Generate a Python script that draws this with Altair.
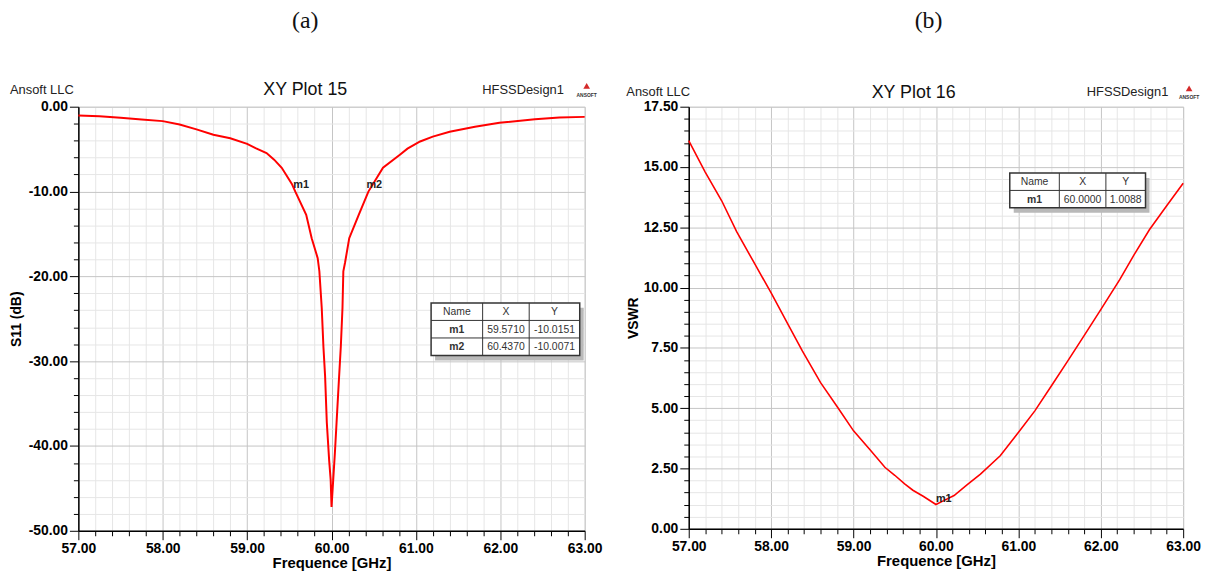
import altair as alt
import pandas as pd

# ---------------- data ----------------
s11_freq = [57.00, 57.25, 57.50, 57.75, 58.00, 58.20, 58.40, 58.60, 58.80, 59.00,
            59.10, 59.23, 59.32, 59.41, 59.53, 59.571, 59.70, 59.765, 59.836, 59.856,
            59.884, 59.904, 59.924, 59.944, 59.972, 59.990, 60.000, 60.020, 60.040, 60.060,
            60.090, 60.110, 60.130, 60.140, 60.160, 60.210, 60.320, 60.437, 60.610, 60.810,
            60.900, 61.050, 61.200, 61.400, 61.700, 61.990, 62.410, 62.700, 63.000]
s11_db = [-1.05, -1.13, -1.31, -1.51, -1.70, -2.10, -2.67, -3.30, -3.72, -4.38,
          -4.88, -5.47, -6.24, -7.20, -9.10, -10.02, -12.75, -15.50, -17.85, -19.40,
          -23.70, -28.30, -31.80, -37.20, -41.70, -44.00, -47.20, -44.00, -40.80, -37.20,
          -31.80, -28.30, -23.70, -19.40, -18.40, -15.50, -12.80, -10.01, -7.20, -5.66,
          -4.95, -4.10, -3.53, -2.95, -2.36, -1.90, -1.47, -1.28, -1.20]

vswr_freq = [57.00, 57.20, 57.40, 57.58, 57.80, 58.00, 58.20, 58.38, 58.60, 58.80,
             59.00, 59.20, 59.38, 59.50, 59.62, 59.72, 59.85, 60.00, 60.10, 60.22,
             60.38, 60.54, 60.78, 61.00, 61.20, 61.40, 61.60, 61.80, 62.00, 62.23,
             62.40, 62.59, 62.80, 63.00]
vswr_val = [16.09, 14.79, 13.60, 12.33, 10.99, 9.78, 8.51, 7.37, 6.06, 5.07,
            4.06, 3.28, 2.55, 2.22, 1.86, 1.60, 1.34, 1.0088, 1.18, 1.38,
            1.83, 2.27, 3.03, 3.99, 4.89, 5.92, 6.96, 8.02, 9.09, 10.33,
            11.34, 12.40, 13.39, 14.33]

s11_marker_name = ["m1", "m2"]
s11_marker_x = [59.5710, 60.4370]
s11_marker_y = [-10.0151, -10.0071]

vswr_marker_name = ["m1"]
vswr_marker_x = [60.0000]
vswr_marker_y = [1.0088]

table_header = ["Name", "X", "Y"]

x_major = [57, 58, 59, 60, 61, 62, 63]
s11_y_major = [-50, -40, -30, -20, -10, 0]
vswr_y_major = [0, 2.5, 5, 7.5, 10, 12.5, 15, 17.5]

# minor divisions (5 per major step)
x_ticks = sorted({round(a + (b - a) * k / 5, 4) for a, b in zip(x_major[:-1], x_major[1:]) for k in range(6)})
s11_y_ticks = sorted({round(a + (b - a) * k / 5, 4) for a, b in zip(s11_y_major[:-1], s11_y_major[1:]) for k in range(6)})
vswr_y_ticks = sorted({round(a + (b - a) * k / 5, 4) for a, b in zip(vswr_y_major[:-1], vswr_y_major[1:]) for k in range(6)})

FONT = "Liberation Sans"


def make_axis(values, step, title, title_pad, title_size, **kw):
    test = f"abs(datum.value / {step} - round(datum.value / {step})) < 1e-6"
    return alt.Axis(
        values=values,
        tickCount=200,
        title=title,
        labelExpr=f"({test}) ? replace(format(datum.value, '.2f'), '\u2212', '-') : ''",
        gridColor={"condition": {"test": test, "value": "#c4c4c4"}, "value": "#e6e6e6"},
        tickSize={"condition": {"test": test, "value": 9}, "value": 5},
        gridWidth=1,
        domainColor="#000000",
        domainWidth=1.5,
        tickColor="#000000",
        tickWidth=1,
        labelFont=FONT,
        labelFontSize=14,
        labelFontWeight="bold",
        labelColor="#000000",
        labelPadding=2,
        labelOverlap=False,
        labelFlush=False,
        labelBound=False,
        titleFont=FONT,
        titleFontSize=title_size,
        titleFontWeight="bold",
        titleColor="#000000",
        titlePadding=title_pad,
        **kw,
    )


def txt(s, x, y, size=13, weight="normal", color="#222222", align="left",
        baseline="middle", font=FONT):
    return alt.Chart(alt.Data(values=[{"t": s}])).mark_text(
        align=align, baseline=baseline, fontSize=size, fontWeight=weight,
        color=color, font=font
    ).encode(x=alt.value(x), y=alt.value(y), text="t:N")


def box(x0, y0, x1, y1, **kw):
    return alt.Chart(alt.Data(values=[{"a": 1}])).mark_rect(**kw).encode(
        x=alt.value(x0), x2=alt.value(x1), y=alt.value(y0), y2=alt.value(y1))


def vline(x, y0, y1, color="#333333", w=1):
    return alt.Chart(alt.Data(values=[{"a": 1}])).mark_rule(color=color, strokeWidth=w).encode(
        x=alt.value(x), y=alt.value(y0), y2=alt.value(y1))


def hline(y, x0, x1, color="#333333", w=1):
    return alt.Chart(alt.Data(values=[{"a": 1}])).mark_rule(color=color, strokeWidth=w).encode(
        y=alt.value(y), x=alt.value(x0), x2=alt.value(x1))


def marker_table(left, top, col_w, row_h, names, xs, ys):
    rows = [table_header] + [[n, f"{a:.4f}", f"{b:.4f}"] for n, a, b in zip(names, xs, ys)]
    tw = sum(col_w)
    th = row_h * len(rows)
    layers = [
        box(left + 4, top + 5, left + tw + 4, top + th + 5, color="#b9b9b9"),
        box(left, top, left + tw, top + th, fill="#ffffff", stroke="#333333", strokeWidth=1.5),
    ]
    cx = left
    for w in col_w[:-1]:
        cx += w
        layers.append(vline(cx, top, top + th))
    for r in range(1, len(rows)):
        layers.append(hline(top + r * row_h, left, left + tw))
    for r, row in enumerate(rows):
        cx = left
        for c, (w, s) in enumerate(zip(col_w, row)):
            bold = (r > 0 and c == 0)
            layers.append(txt(s, cx + w / 2, top + r * row_h + row_h / 2 + 0.5, size=10.5,
                              weight="bold" if bold else "normal", color="#333333",
                              align="center"))
            cx += w
    return layers


def logo(x, y):
    tri = alt.Chart(alt.Data(values=[{"a": 1}])).mark_point(
        shape="triangle-up", filled=True, color="#d42a2a", size=45, opacity=1
    ).encode(x=alt.value(x), y=alt.value(y))
    return [tri, txt("ANSOFT", x, y + 9, size=5, weight="bold", color="#333333", align="center")]


def panel(freq, vals, mk_name, mk_x, mk_y, y_dom, y_ticks, y_step, y_title,
          W, H, tag, plot_title, tag_dy, tbl, line_w, mk_dx, mk_dy, y_title_pad):
    df = pd.DataFrame({"f": freq, "v": vals})
    mk = pd.DataFrame({"n": mk_name, "f": mk_x, "v": mk_y})
    xs = alt.Scale(domain=[57, 63], nice=False, zero=False)
    ys = alt.Scale(domain=y_dom, nice=False, zero=False)
    line = alt.Chart(df).mark_line(color="#ff0000", strokeWidth=line_w).encode(
        x=alt.X("f:Q", scale=xs, axis=make_axis(x_ticks, 1, "Frequence [GHz]", 0, 15)),
        y=alt.Y("v:Q", scale=ys, axis=make_axis(y_ticks, y_step, y_title, y_title_pad, 14)),
    )
    mtext = alt.Chart(mk).mark_text(
        align="left", baseline="alphabetic", dx=mk_dx, dy=mk_dy,
        fontSize=11, fontWeight="bold", color="#222222", font=FONT
    ).encode(x="f:Q", y="v:Q", text="n:N")
    hy = tbl["head_y"]
    layers = [line, mtext]
    layers += [
        txt(tag, tbl["tag_x"], tag_dy, size=24, color="#111111",
            align="center", font="Liberation Serif"),
        txt(plot_title, tbl["title_x"], tbl["title_y"], size=18, color="#111111", align="center"),
        txt("Ansoft LLC", tbl["ansoft_x"], hy, size=13, color="#222222"),
        txt("HFSSDesign1", tbl["hfss_x"], hy, size=13, color="#222222", align="right"),
    ]
    layers += logo(tbl["logo_x"], hy - 4)
    layers += marker_table(tbl["left"], tbl["top"], tbl["cols"], tbl["row_h"], mk_name, mk_x, mk_y)
    return alt.layer(*layers).properties(width=W, height=H)


left = panel(
    s11_freq, s11_db, s11_marker_name, s11_marker_x, s11_marker_y,
    [-50, 0], s11_y_ticks, 10, "S11 (dB)", 511, 428, "(a)", "XY Plot 15", -86,
    {"tag_x": 229, "title_x": 229, "title_y": -17, "ansoft_x": -69, "hfss_x": 490,
     "logo_x": 513, "head_y": -17, "left": 356, "top": 198, "cols": [52, 47, 51],
     "row_h": 17.7},
    2, -2, -4, 5,
)
right = panel(
    vswr_freq, vswr_val, vswr_marker_name, vswr_marker_x, vswr_marker_y,
    [0, 17.5], vswr_y_ticks, 2.5, "VSWR", 499, 426, "(b)", "XY Plot 16", -86,
    {"tag_x": 242, "title_x": 227, "title_y": -14, "ansoft_x": -63, "hfss_x": 484,
     "logo_x": 505, "head_y": -14.5, "left": 324, "top": 67, "cols": [50, 47, 40],
     "row_h": 17.5},
    1.6, 0, -2, 3,
)

chart = alt.hconcat(left, right, spacing=22).properties(
    padding={"left": 0, "top": -2, "right": 0, "bottom": 0}
).configure_view(stroke="#555555", strokeWidth=1.5).configure(background="#ffffff")

chart.save("out.html", embed_options={"renderer": "svg", "actions": False})
